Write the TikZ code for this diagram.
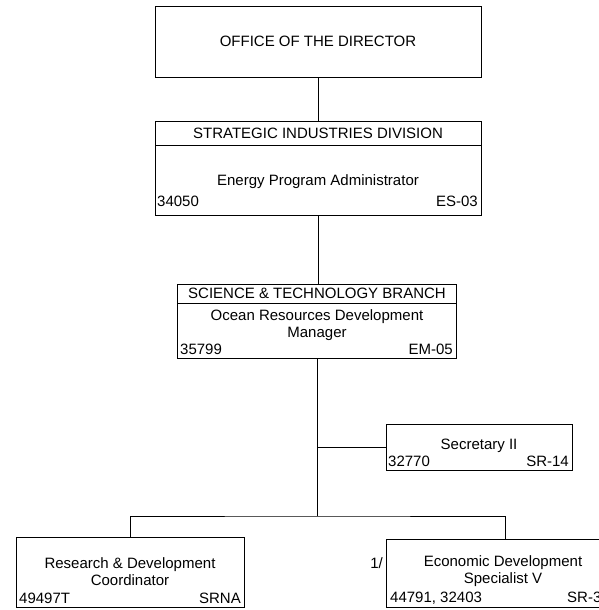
\documentclass[tikz,border=0pt]{standalone}
\usepackage{fontspec}
\setmainfont{Liberation Sans}
\usepackage{tikz}
\usetikzlibrary{calc}

\tikzset{
  unit/.style={draw, line width=0.9pt, inner sep=0pt, font=\fontsize{15}{17}\selectfont, align=center},
  lbl/.style={inner sep=0pt, font=\fontsize{15}{17}\selectfont, align=center},
  link/.style={line width=0.9pt}
}

\begin{document}
\begin{tikzpicture}[x=1pt,y=-1pt]
  \useasboundingbox (0,0) rectangle (599,610);
  \clip (0,0) rectangle (599,610);
  \node[unit, minimum width=326pt, minimum height=71pt] (dir) at (318,41.5) {OFFICE OF THE DIRECTOR};
  \node[unit, minimum width=326pt, minimum height=24pt] (sidhead) at (318,133) {STRATEGIC INDUSTRIES DIVISION};
  \node[unit, minimum width=326pt, minimum height=70pt, anchor=north] (sidbody) at (sidhead.south) {};
  \node[lbl] (sidtitle) at (318,182) {Energy Program Administrator};
  \node[lbl, anchor=base west] (sidno) at (157,206) {34050};
  \node[lbl, anchor=base east] (sidgrade) at (478,206) {ES-03};

  \node[unit, minimum width=279pt, minimum height=19pt] (stbhead) at (317,293.5) {SCIENCE \& TECHNOLOGY BRANCH};
  \node[unit, minimum width=279pt, minimum height=55pt, anchor=north] (stbbody) at (stbhead.south) {};
  \node[lbl] (stbtitle) at (317,325) {Ocean Resources Development\\Manager};
  \node[lbl, anchor=base west] (stbno) at (180,354) {35799};
  \node[lbl, anchor=base east] (stbgrade) at (453,354) {EM-05};

  \node[unit, minimum width=186pt, minimum height=46pt] (sec) at (479,447) {};
  \node[lbl] (sectitle) at (479,446) {Secretary II};
  \node[lbl, anchor=base west] (secno) at (388,466) {32770};
  \node[lbl, anchor=base east] (secgrade) at (569,466) {SR-14};

  \node[unit, minimum width=228pt, minimum height=70pt] (rdc) at (130,572) {};
  \node[lbl] (rdctitle) at (130,572) {Research \& Development\\Coordinator};
  \node[lbl, anchor=base west] (rdcno) at (19,603) {49497T};
  \node[lbl, anchor=base east] (rdcgrade) at (241,603) {SRNA};

  \node[unit, minimum width=238pt, minimum height=68pt] (eds) at (505,573) {};
  \node[lbl] (edstitle) at (503,571) {Economic Development\\Specialist V};
  \node[lbl, anchor=base west] (edsno) at (390,602) {44791, 32403};
  \node[lbl, anchor=base west] (edsgrade) at (567,602) {SR-3};
  \node[lbl, anchor=east] (edsnote) at (383,563) {1/};

  \coordinate (jn) at (317,516);
  \draw[link] (dir) -- (sidhead);
  \draw[link] (sidbody.south) -- (sidbody.south |- stbhead.north);
  \draw[link] (stbbody.south) -- (jn);
  \draw[link] (sec.west) -- (sec.west -| jn);
  \draw[link] (rdc.north) |- (jn) -| (eds.north);
\end{tikzpicture}
\end{document}
